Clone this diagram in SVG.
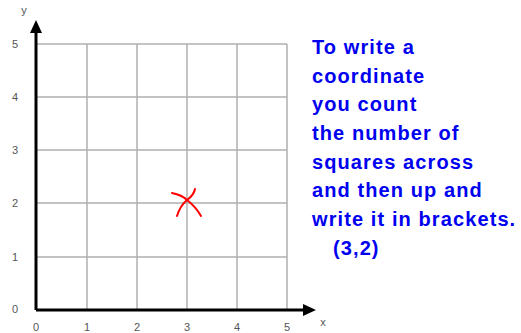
<svg xmlns="http://www.w3.org/2000/svg" width="521" height="333" viewBox="0 0 521 333">
<style>
.grid{stroke:#b0b0b0;stroke-width:1.5;fill:none}
.axis{stroke:#000;stroke-width:3;fill:none}
.lbl{font-family:"Liberation Sans",Arial,sans-serif;font-size:11px;fill:#555;text-anchor:middle}
.txt{font-family:"Liberation Sans",Arial,sans-serif;font-size:20px;font-weight:bold;fill:#0000f0;letter-spacing:1.1px}
.mark{stroke:#f00;stroke-width:2;fill:none;stroke-linecap:round}
</style>
<defs>
<marker id="ah" markerWidth="13" markerHeight="12" refX="2" refY="6" orient="auto" markerUnits="userSpaceOnUse">
<path d="M0,0 L13,6 L0,12 Z" fill="#000"/>
</marker>
</defs>
<g id="grid">
<path class="grid" d="M87,44V310M137,44V310M187,44V310M237,44V310M287,44V310"/>
<path class="grid" d="M36,44H287M36,97H287M36,150H287M36,203H287M36,257H287"/>
</g>
<g id="axes">
<path class="axis" d="M36,310V31" marker-end="url(#ah)"/>
<path class="axis" d="M36,310H305" marker-end="url(#ah)"/>
</g>
<g id="labels">
<text class="lbl" x="15" y="48">5</text>
<text class="lbl" x="15" y="101">4</text>
<text class="lbl" x="15" y="154">3</text>
<text class="lbl" x="15" y="207">2</text>
<text class="lbl" x="15" y="261">1</text>
<text class="lbl" x="15" y="313">0</text>
<text class="lbl" x="36" y="331">0</text>
<text class="lbl" x="87" y="331">1</text>
<text class="lbl" x="137" y="331">2</text>
<text class="lbl" x="187" y="331">3</text>
<text class="lbl" x="237" y="331">4</text>
<text class="lbl" x="287" y="331">5</text>
<text class="lbl" x="24" y="14">y</text>
<text class="lbl" x="323" y="326">x</text>
</g>
<g id="mark">
<path class="mark" d="M172,193 Q182,195 187,200 Q196,207 201,216"/>
<path class="mark" d="M195,189 Q194,195 187,200 Q180,206 177,216"/>
</g>
<g id="text">
<text class="txt" x="312" y="54">To write a</text>
<text class="txt" x="312" y="83">coordinate</text>
<text class="txt" x="312" y="111">you count</text>
<text class="txt" x="312" y="140">the number of</text>
<text class="txt" x="312" y="169">squares across</text>
<text class="txt" x="312" y="197">and then up and</text>
<text class="txt" x="312" y="226">write it in brackets.</text>
<text class="txt" x="333" y="255">(3,2)</text>
</g>
</svg>
